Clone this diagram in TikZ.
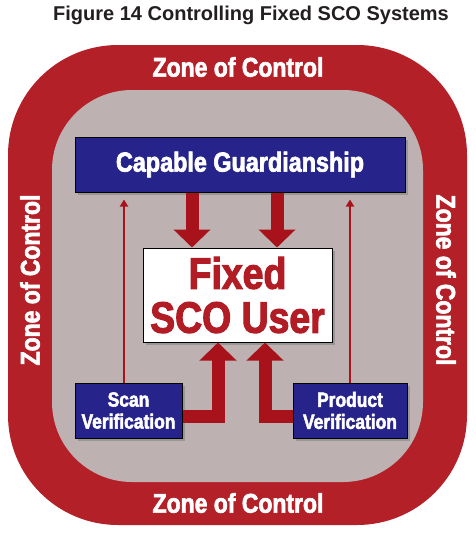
\documentclass[tikz,border=0pt]{standalone}
\usepackage{fontspec}
\setmainfont{Liberation Sans}
\newfontfamily\condbold[FakeStretch=0.85, FakeBold=2.4]{Liberation Sans Bold}
\newfontfamily\titlebold{Liberation Sans Bold}
\usetikzlibrary{arrows.meta,shadows}
\definecolor{zonered}{RGB}{180,32,40}
\definecolor{zonegray}{RGB}{190,177,177}
\definecolor{guardblue}{RGB}{38,36,138}
\definecolor{arrowred}{RGB}{168,18,26}
\definecolor{userred}{RGB}{178,28,36}
\definecolor{titlegray}{RGB}{35,31,32}
\tikzstyle{zonetext} = [text=white, font=\condbold\fontsize{27}{30}\selectfont]
\tikzstyle{bluebox} = [draw=black, fill=guardblue, text=white, rectangle, line width=1pt, align=center, inner sep=0pt, drop shadow={shadow xshift=2.5pt, shadow yshift=-2.5pt, opacity=0.55}]
\tikzstyle{bigarrow} = [draw=arrowred, line width=13pt, -{Triangle[width=36pt,length=18pt]}]
\tikzstyle{thinline} = [draw=arrowred, line width=2.5pt, -{Triangle[width=8pt,length=7pt]}]

\begin{document}
\begin{tikzpicture}[x=1pt, y=-1pt]
    \useasboundingbox (0,0) rectangle (476,533);
    % Zones
    \fill [zonered, rounded corners=110pt] (8,45) rectangle (467,525);
    \fill [zonegray, rounded corners=80pt] (52,90) rectangle (423,482);

    % Place nodes
    \node [font=\titlebold\fontsize{20}{22}\selectfont, text=titlegray] (title) at (251,15) {Figure 14 Controlling Fixed SCO Systems};
    \node [zonetext] (ztop) at (238,67) {Zone of Control};
    \node [zonetext] (zbottom) at (238,503) {Zone of Control};
    \node [zonetext, rotate=90] (zleft) at (30,280) {Zone of Control};
    \node [zonetext, rotate=-90] (zright) at (446,280) {Zone of Control};

    \node [bluebox, minimum width=330pt, minimum height=55pt, font=\condbold\fontsize{27.5}{30}\selectfont] (guard) at (240,164.5) {Capable Guardianship};
    \node [draw=black, fill=white, line width=1pt, minimum width=189pt, minimum height=94pt, inner sep=0pt, align=center, text=userred, font=\condbold\fontsize{44}{44}\selectfont, drop shadow={shadow xshift=2.5pt, shadow yshift=-2.5pt, opacity=0.55}] (user) at (237.5,295) {Fixed\\SCO User};
    \node [bluebox, minimum width=107pt, minimum height=55pt, font=\condbold\fontsize{20.5}{22}\selectfont] (scan) at (128.5,410.5) {Scan\\Verification};
    \node [bluebox, minimum width=114pt, minimum height=55pt, font=\condbold\fontsize{20.5}{22}\selectfont] (product) at (350,410.5) {Product\\Verification};

    % Draw edges
    \path [bigarrow] ([xshift=-48pt]guard.south) -- ([xshift=-48pt]guard.south |- user.north);
    \path [bigarrow] ([xshift=37pt]guard.south) -- ([xshift=37pt]guard.south |- user.north);
    \path [bigarrow] ([yshift=-5.5pt]scan.east) -| ([xshift=-19.5pt]user.south);
    \path [bigarrow] ([yshift=-5.5pt]product.west) -| ([xshift=27.5pt]user.south);
    \path [thinline, shorten >=7pt] ([xshift=-4.5pt]scan.north) -- ([xshift=-4.5pt]scan.north |- guard.south);
    \path [thinline, shorten >=7pt] (product.north) -- (product.north |- guard.south);
\end{tikzpicture}
\end{document}
